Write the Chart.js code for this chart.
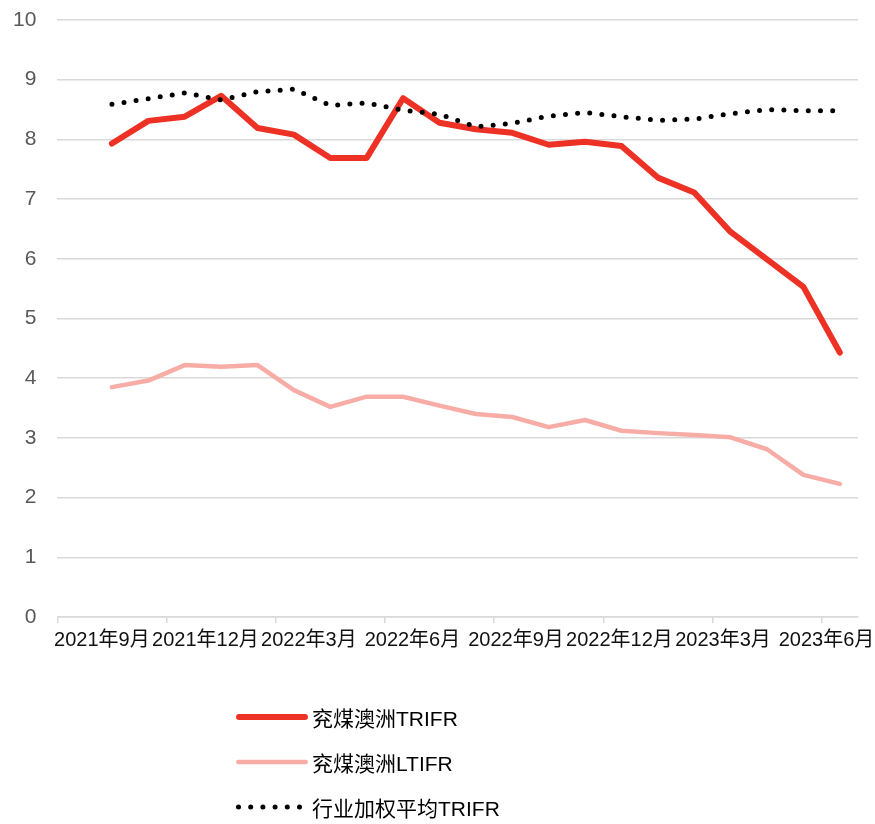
<!DOCTYPE html>
<html>
<head>
<meta charset="utf-8">
<script src="https://cdn.jsdelivr.net/npm/chart.js@4.4.1/dist/chart.umd.min.js"></script>
<style>
  body { margin: 0; background: #fff; }
  #wrap { position: relative; width: 875px; height: 657px; }
  #legend { margin-top: 37px; padding-left: 236px; font: 21px "Liberation Sans", "Noto Sans CJK SC", sans-serif; color: #000; }
  .row { display: flex; align-items: center; height: 45px; }
  .row canvas { margin-right: 4px; }
</style>
</head>
<body>
<div id="wrap"><canvas id="chart"></canvas></div>
<div id="legend"></div>
<script>
// monthly categories, the first month has no value
const months = ['2021年9月', '2021年10月', '2021年11月', '2021年12月', '2022年1月', '2022年2月',
  '2022年3月', '2022年4月', '2022年5月', '2022年6月', '2022年7月', '2022年8月',
  '2022年9月', '2022年10月', '2022年11月', '2022年12月', '2023年1月', '2023年2月',
  '2023年3月', '2023年4月', '2023年5月', '2023年6月'];

// every third month gets a label
const tickLabels = ['2021年9月', '2021年12月', '2022年3月', '2022年6月',
  '2022年9月', '2022年12月', '2023年3月', '2023年6月'];

const yancoalTrifr = [null, 7.93, 8.31, 8.38, 8.73, 8.19, 8.08, 7.69, 7.69, 8.69, 8.28,
  8.17, 8.11, 7.91, 7.96, 7.89, 7.36, 7.11, 6.45, 5.99, 5.53, 4.43];

const yancoalLtifr = [null, 3.85, 3.96, 4.22, 4.19, 4.22, 3.80, 3.52, 3.69, 3.69, 3.54,
  3.40, 3.35, 3.18, 3.30, 3.12, 3.08, 3.05, 3.01, 2.81, 2.38, 2.23];

const industryTrifr = [null, 8.59, 8.68, 8.78, 8.66, 8.80, 8.84, 8.57, 8.61, 8.49, 8.42,
  8.21, 8.27, 8.39, 8.45, 8.38, 8.32, 8.34, 8.43, 8.50, 8.48, 8.48];

const FONT = '"Liberation Sans", "Noto Sans CJK SC", sans-serif';
const GRID = '#d9d9d9';

const chart = new Chart(document.getElementById('chart'), {
  type: 'line',
  data: {
    labels: months,
    datasets: [
      {
        label: '兖煤澳洲TRIFR',
        data: yancoalTrifr,
        borderColor: '#ED3124',
        borderWidth: 6,
        order: 1
      },
      {
        label: '兖煤澳洲LTIFR',
        data: yancoalLtifr,
        borderColor: '#F7ADA6',
        borderWidth: 4.5,
        order: 2
      },
      {
        label: '行业加权平均TRIFR',
        data: industryTrifr,
        borderColor: '#000',
        borderWidth: 5,
        borderDash: [0, 12.2],
        order: 0
      }
    ]
  },
  options: {
    responsive: true,
    maintainAspectRatio: false,
    animation: false,
    datasets: {
      line: {
        pointRadius: 0,
        tension: 0,
        fill: false,
        borderCapStyle: 'round',
        borderJoinStyle: 'round'
      }
    },
    layout: { padding: { top: 20, left: 13, right: 17, bottom: 0 } },
    plugins: {
      legend: { display: false },
      tooltip: { enabled: false }
    },
    scales: {
      // the category axis only carries the tick marks between months
      x: {
        type: 'category',
        offset: true,
        grid: {
          offset: true,
          drawOnChartArea: false,
          tickLength: 6,
          lineWidth: 1.5,
          color: ctx => (ctx.index % 3 === 0 ? GRID : 'rgba(0,0,0,0)')
        },
        border: { display: true, color: GRID, width: 1.5 },
        ticks: { display: false, autoSkip: false }
      },
      // second axis below it holds the quarter labels
      x2: {
        type: 'linear',
        position: 'bottom',
        weight: 1,
        bounds: 'data',
        min: -0.43,
        max: 7.304,
        grid: { display: false, drawTicks: false },
        border: { display: false },
        afterBuildTicks: axis => {
          axis.ticks = tickLabels.map((l, i) => ({ value: i }));
        },
        // labels may run past the plot edges, don't shrink the plot for them
        afterFit: axis => {
          axis.paddingLeft = 0;
          axis.paddingRight = 0;
        },
        ticks: {
          callback: v => tickLabels[v],
          autoSkip: false,
          maxRotation: 0,
          padding: 5,
          color: '#111',
          font: { family: FONT, size: 20 }
        }
      },
      y: {
        min: 0,
        max: 10,
        grid: { color: GRID, lineWidth: 1.5, drawTicks: false },
        border: { display: false },
        // padding is counted on both sides of the labels, keep only the inner one
        afterFit: axis => {
          axis.paddingTop = 0;
          axis.paddingBottom = 0;
          axis.width -= axis.options.ticks.padding;
        },
        ticks: {
          stepSize: 1,
          padding: 21,
          color: '#595959',
          font: { family: FONT, size: 21 }
        }
      }
    }
  }
});

// legend below the chart, one entry per line
const legendEl = document.getElementById('legend');
chart.data.datasets.forEach(ds => {
  const row = document.createElement('div');
  row.className = 'row';
  const c = document.createElement('canvas');
  c.width = 72;
  c.height = 20;
  const g = c.getContext('2d');
  g.strokeStyle = ds.borderColor;
  g.lineWidth = ds.borderWidth;
  g.lineCap = 'round';
  if (ds.borderDash) {
    g.setLineDash(ds.borderDash);
    g.beginPath();
    g.moveTo(2.5, 10);
    g.lineTo(69.5, 10);
  } else {
    g.beginPath();
    g.moveTo(ds.borderWidth / 2, 10);
    g.lineTo(72 - ds.borderWidth / 2, 10);
  }
  g.stroke();
  const span = document.createElement('span');
  span.textContent = ds.label;
  row.appendChild(c);
  row.appendChild(span);
  legendEl.appendChild(row);
});
</script>
</body>
</html>
